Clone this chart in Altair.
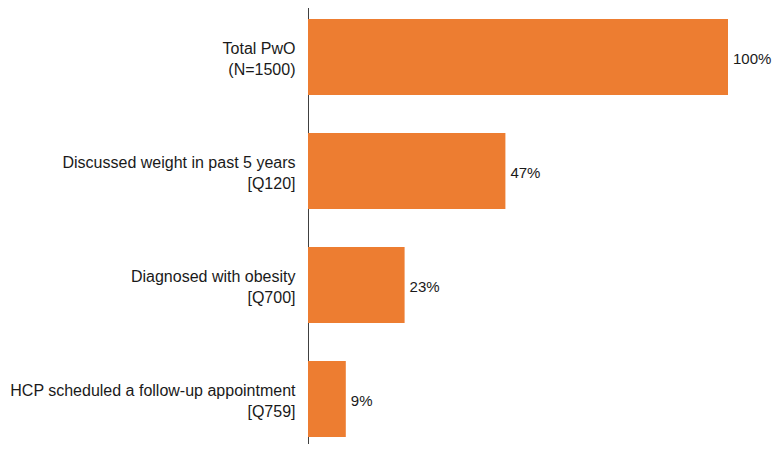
import altair as alt
import pandas as pd

categories = [
    "Total PwO|(N=1500)",
    "Discussed weight in past 5 years|[Q120]",
    "Diagnosed with obesity|[Q700]",
    "HCP scheduled a follow-up appointment|[Q759]",
]
values = [100, 47, 23, 9]
labels = ["100%", "47%", "23%", "9%"]

df = pd.DataFrame({"cat": categories, "val": values, "lab": labels})

font = "Liberation Sans"

base = alt.Chart(df).encode(
    y=alt.Y(
        "cat:N",
        sort=None,
        title=None,
        scale=alt.Scale(range=[-8, 448], paddingInner=0.3333, paddingOuter=0.1667),
        axis=alt.Axis(
            labelExpr="split(datum.label, '|')",
            labelAlign="right",
            labelBaseline="middle",
            labelFontSize=16,
            labelFont=font,
            labelColor="#1a1a1a",
            labelLineHeight=21,
            labelPadding=13,
            labelOffset=-8,
            labelLimit=0,
            ticks=False,
            tickSize=0,
            domainColor="#404040",
            domainWidth=1,
            grid=False,
        ),
    ),
    x=alt.X(
        "val:Q",
        title=None,
        scale=alt.Scale(domain=[0, 100], nice=False, zero=True),
        axis=None,
    ),
)

bars = base.mark_bar(color="#ED7D31")
text = base.mark_text(
    align="left", baseline="middle", dx=5, dy=2, fontSize=15, font=font, color="#1a1a1a"
).encode(text="lab:N")

chart = (
    alt.layer(bars, text)
    .properties(
        width=420,
        height=436,
        background="white",
        autosize=alt.AutoSizeParams(type="none"),
        padding={"left": 300, "top": 0, "right": 44, "bottom": 0},
    )
    .configure_view(strokeWidth=0, stroke="transparent")
)

chart.save("out.html", embed_options={"renderer": "svg", "actions": False})
